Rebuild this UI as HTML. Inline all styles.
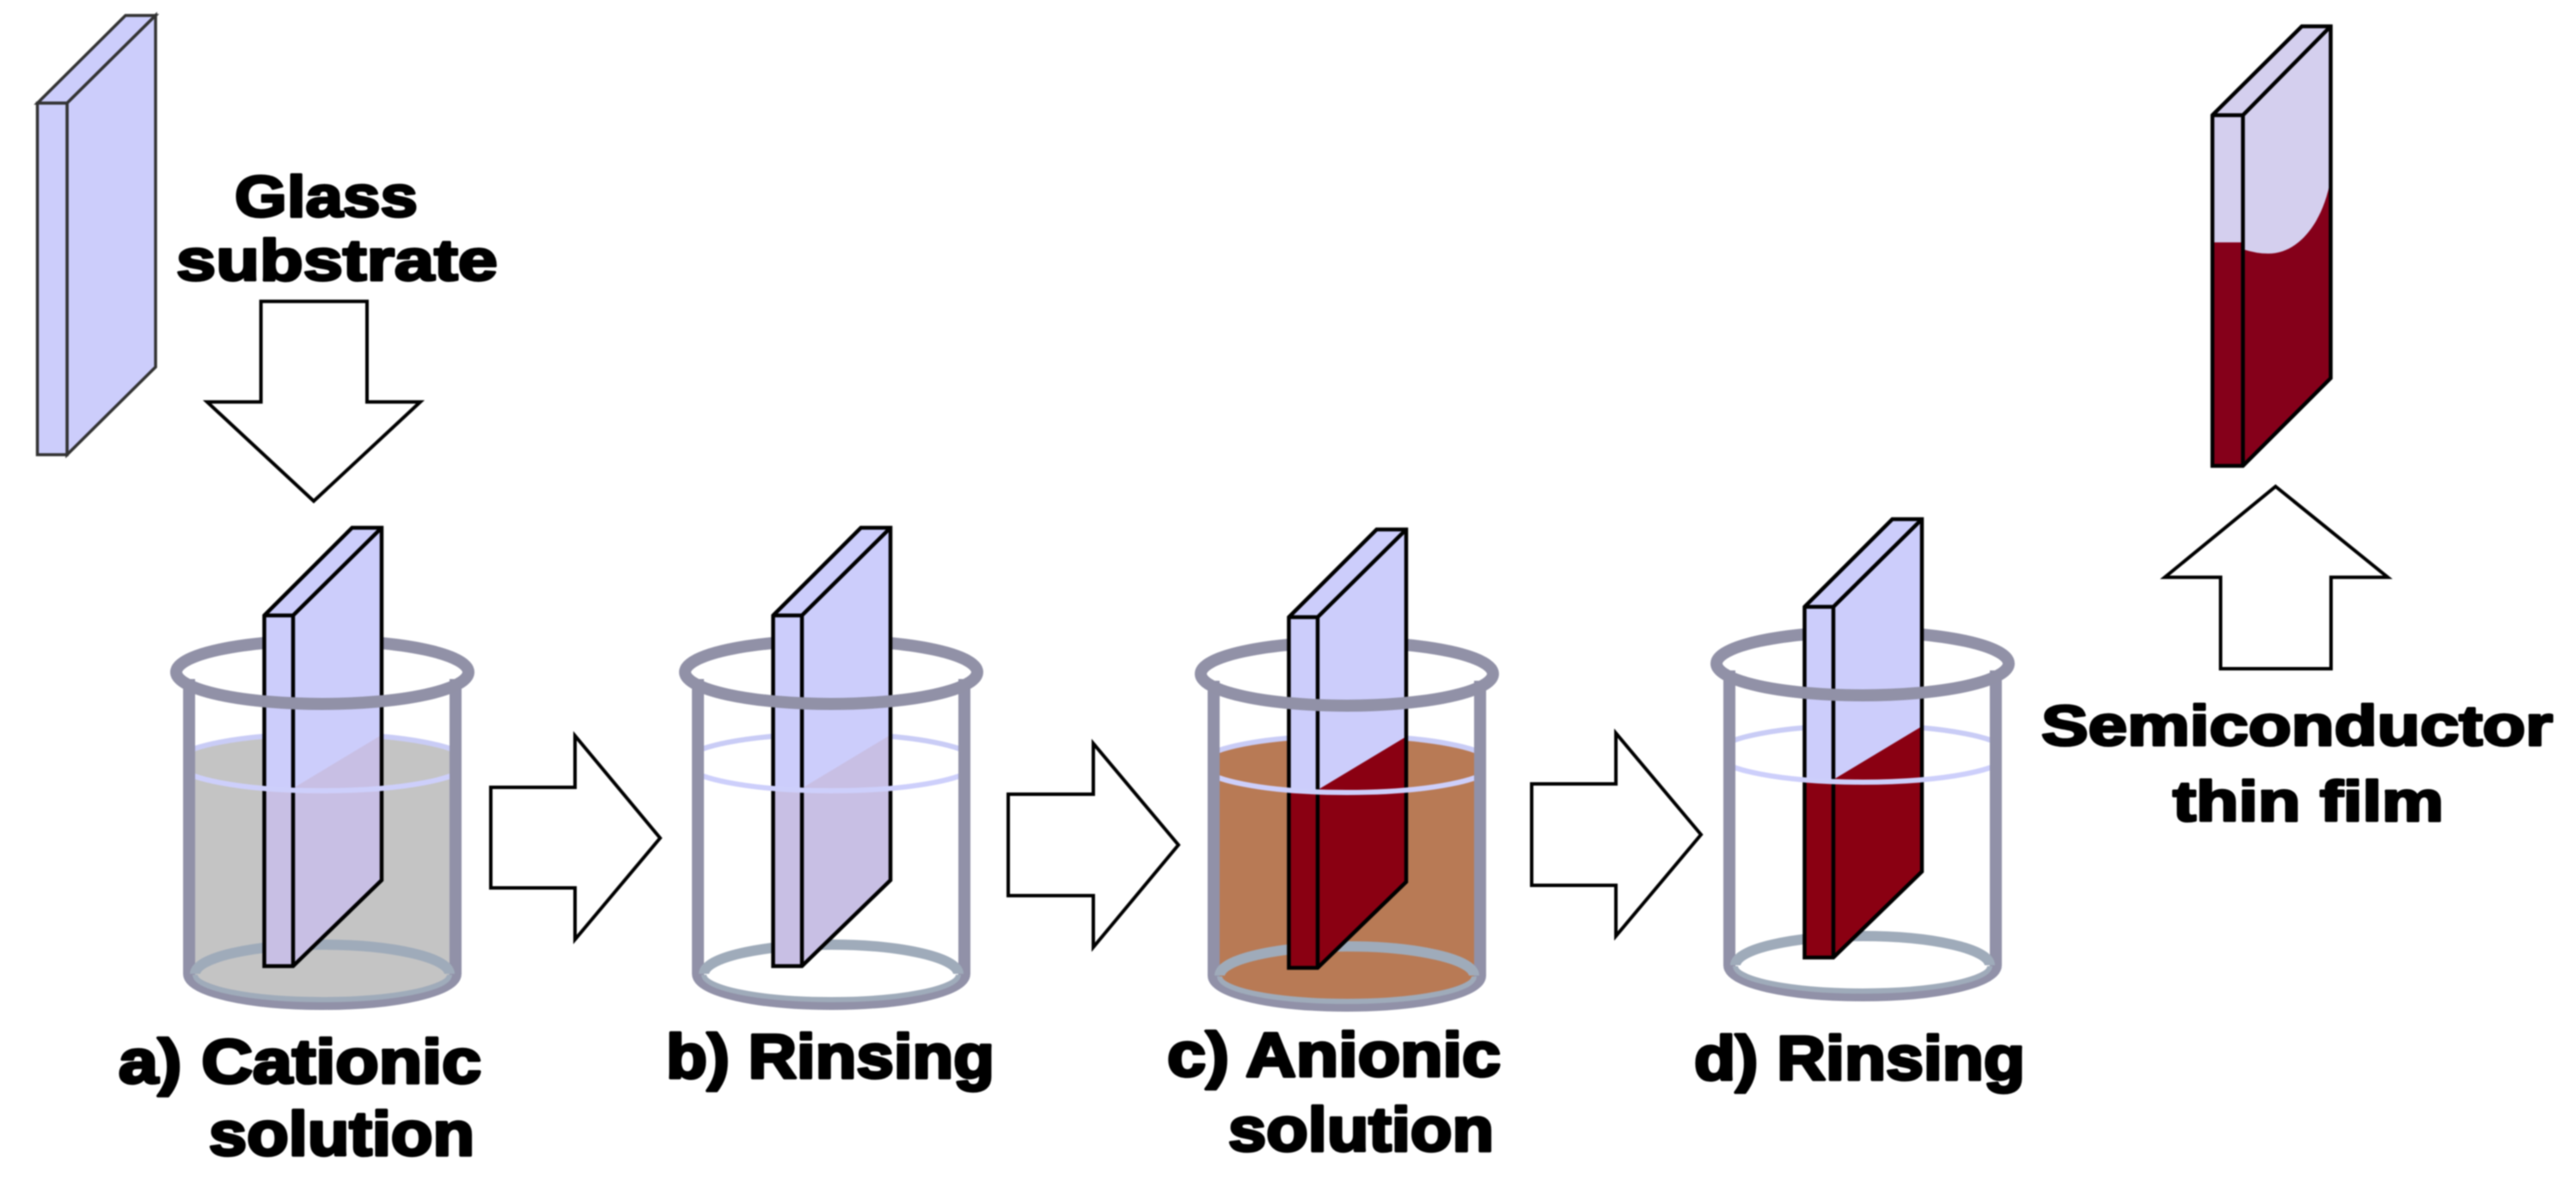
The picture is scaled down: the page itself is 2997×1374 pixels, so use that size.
<!DOCTYPE html>
<html><head><meta charset="utf-8"><style>
html,body{margin:0;padding:0;background:#fff}
svg{display:block;filter:blur(.7px)}
text{font-family:"Liberation Sans",sans-serif;font-weight:bold;fill:#000;stroke:#000;stroke-width:3;stroke-linejoin:round}
text.lb{stroke-width:3.5}
</style></head><body>
<svg xmlns="http://www.w3.org/2000/svg" width="2997" height="1374" viewBox="0 0 2997 1374">
<defs>
<clipPath id="inner"><rect x="227" y="800" width="296" height="400"/></clipPath>
<g id="beakerBack" fill="none">
  <path d="M220,790V1133M530,790V1133" stroke="#9191a8" stroke-width="14"/>
  <path d="M227,1133A148,34 0 0 1 523,1133" stroke="#9fabba" stroke-width="12"/>
  <path d="M205,782A170,37 0 0 1 545,782" stroke="#9191a7" stroke-width="14"/>
  <path d="M205,887A170,33 0 0 1 545,887" stroke="#c9ccf6" stroke-width="6" clip-path="url(#inner)"/>
</g>
<g id="beakerFront" fill="none">
  <path d="M205,887A170,33 0 0 0 545,887" stroke="#cdcffb" stroke-width="6" clip-path="url(#inner)"/>
  <path d="M205,782A170,37 0 0 0 545,782" stroke="#9191a7" stroke-width="14"/>
  <path d="M220,1133A155,35 0 0 0 530,1133" stroke="#9191a8" stroke-width="14"/>
  <path d="M227,1134A148,29 0 0 0 523,1134" stroke="#9fabba" stroke-width="6"/>
</g>
<g id="liquid" clip-path="url(#inner)">
  <ellipse cx="375" cy="887" rx="170" ry="30"/>
  <rect x="227" y="887" width="296" height="246"/>
  <ellipse cx="375" cy="1132" rx="150" ry="29"/>
</g>
<g id="plateBody" fill="#cccdfb">
  <polygon points="307.5,716 341,716 341,1124 307.5,1124"/>
  <polygon points="307.5,716 409.6,614 444,614 341,716"/>
  <polygon points="341,716 444,614 444,1024 341,1124"/>
</g>
<g id="plateTint">
  <polygon points="341,917 444,855 444,1024 341,1124"/>
  <rect x="307.5" y="920" width="33.5" height="204"/>
</g>
<g id="plateLine" fill="none" stroke="#000" stroke-width="4.5" stroke-linejoin="miter">
  <polygon points="307.5,716 409.6,614 444,614 444,1024 341,1124 307.5,1124"/>
  <path d="M307.5,716H341V1124M341,716L444,614"/>
</g>
</defs>
<rect width="2997" height="1374" fill="#fff"/>

<!-- Starting substrate -->
<g stroke="#333" stroke-width="3.5" fill="#cccdfb" stroke-linejoin="miter">
  <polygon points="43.5,120 146,18 181,18 78,120"/>
  <polygon points="78,120 181,18 181,427 78,529"/>
  <rect x="43.5" y="120" width="34.5" height="409"/>
</g>

<!-- Down arrow -->
<polygon points="303.6,350.6 427,350.6 427,467.6 489,467.6 365,583 241,467.6 303.6,467.6" fill="#fff" stroke="#000" stroke-width="4"/>
<text x="273" y="252" font-size="68" textLength="213" lengthAdjust="spacingAndGlyphs">Glass</text>
<text x="205" y="326" font-size="68" textLength="374" lengthAdjust="spacingAndGlyphs">substrate</text>

<!-- Beaker a -->
<use href="#liquid" fill="#c4c4c4"/>
<use href="#beakerBack"/>
<use href="#plateBody"/><use href="#plateTint" fill="#c8bfe4"/><use href="#plateLine"/>
<use href="#beakerFront"/>

<!-- Beaker b -->
<g transform="translate(592,0)">
  <use href="#beakerBack"/>
  <use href="#plateBody"/><use href="#plateTint" fill="#c8bfe4"/><use href="#plateLine"/>
  <use href="#beakerFront"/>
</g>

<!-- Beaker c -->
<g transform="translate(1192,2)">
  <use href="#liquid" fill="#b87a55"/>
  <use href="#beakerBack"/>
  <use href="#plateBody"/><use href="#plateTint" fill="#8a0012"/><use href="#plateLine"/>
  <use href="#beakerFront"/>
</g>

<!-- Beaker d -->
<g transform="translate(1792,-10)">
  <use href="#beakerBack"/>
  <use href="#plateBody"/><use href="#plateTint" fill="#8a0012"/><use href="#plateLine"/>
  <use href="#beakerFront"/>
</g>

<!-- Right arrows -->
<g fill="#fff" stroke="#000" stroke-width="4">
  <polygon points="571,916 669,916 669,856 768,975 669,1093 669,1033 571,1033"/>
  <polygon points="1173,924 1272,924 1272,865 1371,983 1272,1102 1272,1042 1173,1042"/>
  <polygon points="1782,912 1880,912 1880,853 1979,971 1880,1089 1880,1030 1782,1030"/>
</g>

<!-- Final film -->
<g>
  <polygon points="2574,134 2678,30.6 2711.6,30.6 2609.5,134" fill="#d4cfee"/>
  <polygon points="2609.5,134 2711.6,30.6 2711.6,440 2609.5,542" fill="#85001a"/>
  <rect x="2574" y="134" width="35.5" height="408" fill="#85001a"/>
  <rect x="2574" y="134" width="35.5" height="148" fill="#d4cfee"/>
  <path d="M2609.5,134L2711.6,30.6V208C2703,258 2675,295 2639,295Q2625,295 2609.5,290Z" fill="#d4cfee"/>
  <g fill="none" stroke="#000" stroke-width="4.5">
    <polygon points="2574,134 2678,30.6 2711.6,30.6 2711.6,440 2609.5,542 2574,542"/>
    <path d="M2574,134H2609.5V542M2609.5,134L2711.6,30.6"/>
  </g>
</g>
<polygon points="2647.5,566 2778,671.6 2712,671.6 2712,778 2583.5,778 2583.5,671.6 2518.6,671.6" fill="#fff" stroke="#000" stroke-width="4"/>

<!-- Labels -->
<text x="2375" y="867" font-size="66" textLength="595" lengthAdjust="spacingAndGlyphs">Semiconductor</text>
<text x="2528" y="955" font-size="66" textLength="315" lengthAdjust="spacingAndGlyphs">thin film</text>
<text class="lb" x="138" y="1260" font-size="72" textLength="422" lengthAdjust="spacingAndGlyphs">a) Cationic</text>
<text class="lb" x="243" y="1344" font-size="72" textLength="309" lengthAdjust="spacingAndGlyphs">solution</text>
<text class="lb" x="775" y="1254" font-size="72" textLength="382" lengthAdjust="spacingAndGlyphs">b) Rinsing</text>
<text class="lb" x="1358" y="1252" font-size="72" textLength="388" lengthAdjust="spacingAndGlyphs">c) Anionic</text>
<text class="lb" x="1429" y="1339" font-size="72" textLength="309" lengthAdjust="spacingAndGlyphs">solution</text>
<text class="lb" x="1971" y="1256" font-size="72" textLength="385" lengthAdjust="spacingAndGlyphs">d) Rinsing</text>
</svg>
</body></html>
